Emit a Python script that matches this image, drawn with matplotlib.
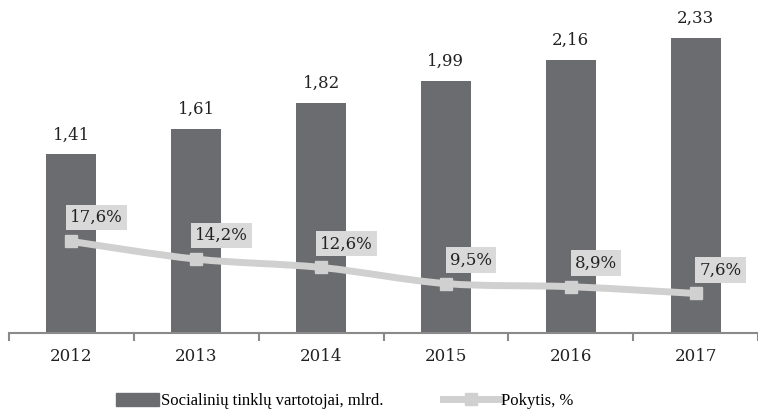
import matplotlib.pyplot as plt
import numpy as np
from matplotlib.path import Path
from matplotlib.patches import PathPatch, Patch, Rectangle
from matplotlib.lines import Line2D
from matplotlib.legend_handler import HandlerPatch

years = ["2012", "2013", "2014", "2015", "2016", "2017"]
users = [1.41, 1.61, 1.82, 1.99, 2.16, 2.33]
change = [17.6, 14.2, 12.6, 9.5, 8.9, 7.6]

bar_color = "#6b6c6f"
line_color = "#d0d0d0"
text_color = "#222222"
plt.rcParams["font.family"] = ["DejaVu Serif"]


def smooth_path(xs, ys):
    # Catmull-Rom style bezier, like spreadsheet "smoothed line"
    pts = np.column_stack([xs, ys]).astype(float)
    verts = [pts[0]]
    codes = [Path.MOVETO]
    n = len(pts)
    for i in range(n - 1):
        p0 = pts[max(i - 1, 0)]
        p1, p2 = pts[i], pts[i + 1]
        p3 = pts[min(i + 2, n - 1)]
        verts += [p1 + (p2 - p0) / 6, p2 - (p3 - p1) / 6, p2]
        codes += [Path.CURVE4] * 3
    return Path(verts, codes)


def short_box(legend, orig_handle, xdescent, ydescent, width, height, fontsize):
    w = width * 0.75
    return Rectangle((width - w - xdescent, -ydescent), w, height)


fig = plt.figure(figsize=(7.58, 4.11), dpi=100)
ax = fig.add_axes([9 / 758, 78 / 411, 749 / 758, 333 / 411])
x = np.arange(len(years))
ax.bar(x, users, width=0.4, color=bar_color, zorder=2)
for xi, v in zip(x, users):
    ax.annotate(f"{v:.2f}".replace(".", ","), (xi, v), xytext=(0, 8),
                textcoords="offset points", ha="center", va="bottom",
                fontsize=12, color=text_color)
ax.set_xlim(-0.5, len(years) - 0.5)
ax.set_ylim(0, 2.63)
for s in ["top", "right", "left"]:
    ax.spines[s].set_visible(False)
ax.spines["bottom"].set_color("#8a8a8a")
ax.spines["bottom"].set_linewidth(1.5)
ax.set_yticks([])
ax.set_xticks(x)
ax.set_xticklabels(years, fontsize=12, color=text_color)
ax.tick_params(axis="x", which="major", length=0, pad=11)
ax.set_xticks(np.arange(-0.5, len(years)), minor=True)
ax.tick_params(axis="x", which="minor", length=6, width=1.5, color="#8a8a8a")

ax2 = ax.twinx()
ax2.set_ylim(0, 64)
ax2.axis("off")
ax2.add_patch(PathPatch(smooth_path(x, change), facecolor="none",
                        edgecolor=line_color, linewidth=5, capstyle="butt", zorder=3))
ax2.plot(x, change, linestyle="none", marker="s", markersize=8,
         color=line_color, zorder=4)
for xi, v in zip(x, change):
    ax2.annotate(f"{v:.1f}%".replace(".", ","), (xi, v), xytext=(18, 17),
                 textcoords="offset points", ha="center", va="center",
                 fontsize=12, color=text_color,
                 bbox=dict(boxstyle="square,pad=0.25", fc="#d9d9d9", ec="none"))

handles = [Patch(color=bar_color),
           Line2D([], [], color=line_color, linewidth=5, marker="s", markersize=8)]
labels = ["Socialinių tinklų vartotojai, mlrd.", "Pokytis, %"]
fig.legend(handles, labels, loc="lower center", bbox_to_anchor=(0.446, -0.032),
           ncol=2, frameon=False, prop={"family": "Liberation Serif", "size": 12},
           handlelength=3.4, handleheight=0.8, handletextpad=0.1, columnspacing=3.6,
           handler_map={Patch: HandlerPatch(patch_func=short_box)})

fig.savefig("out.png", dpi=100)
